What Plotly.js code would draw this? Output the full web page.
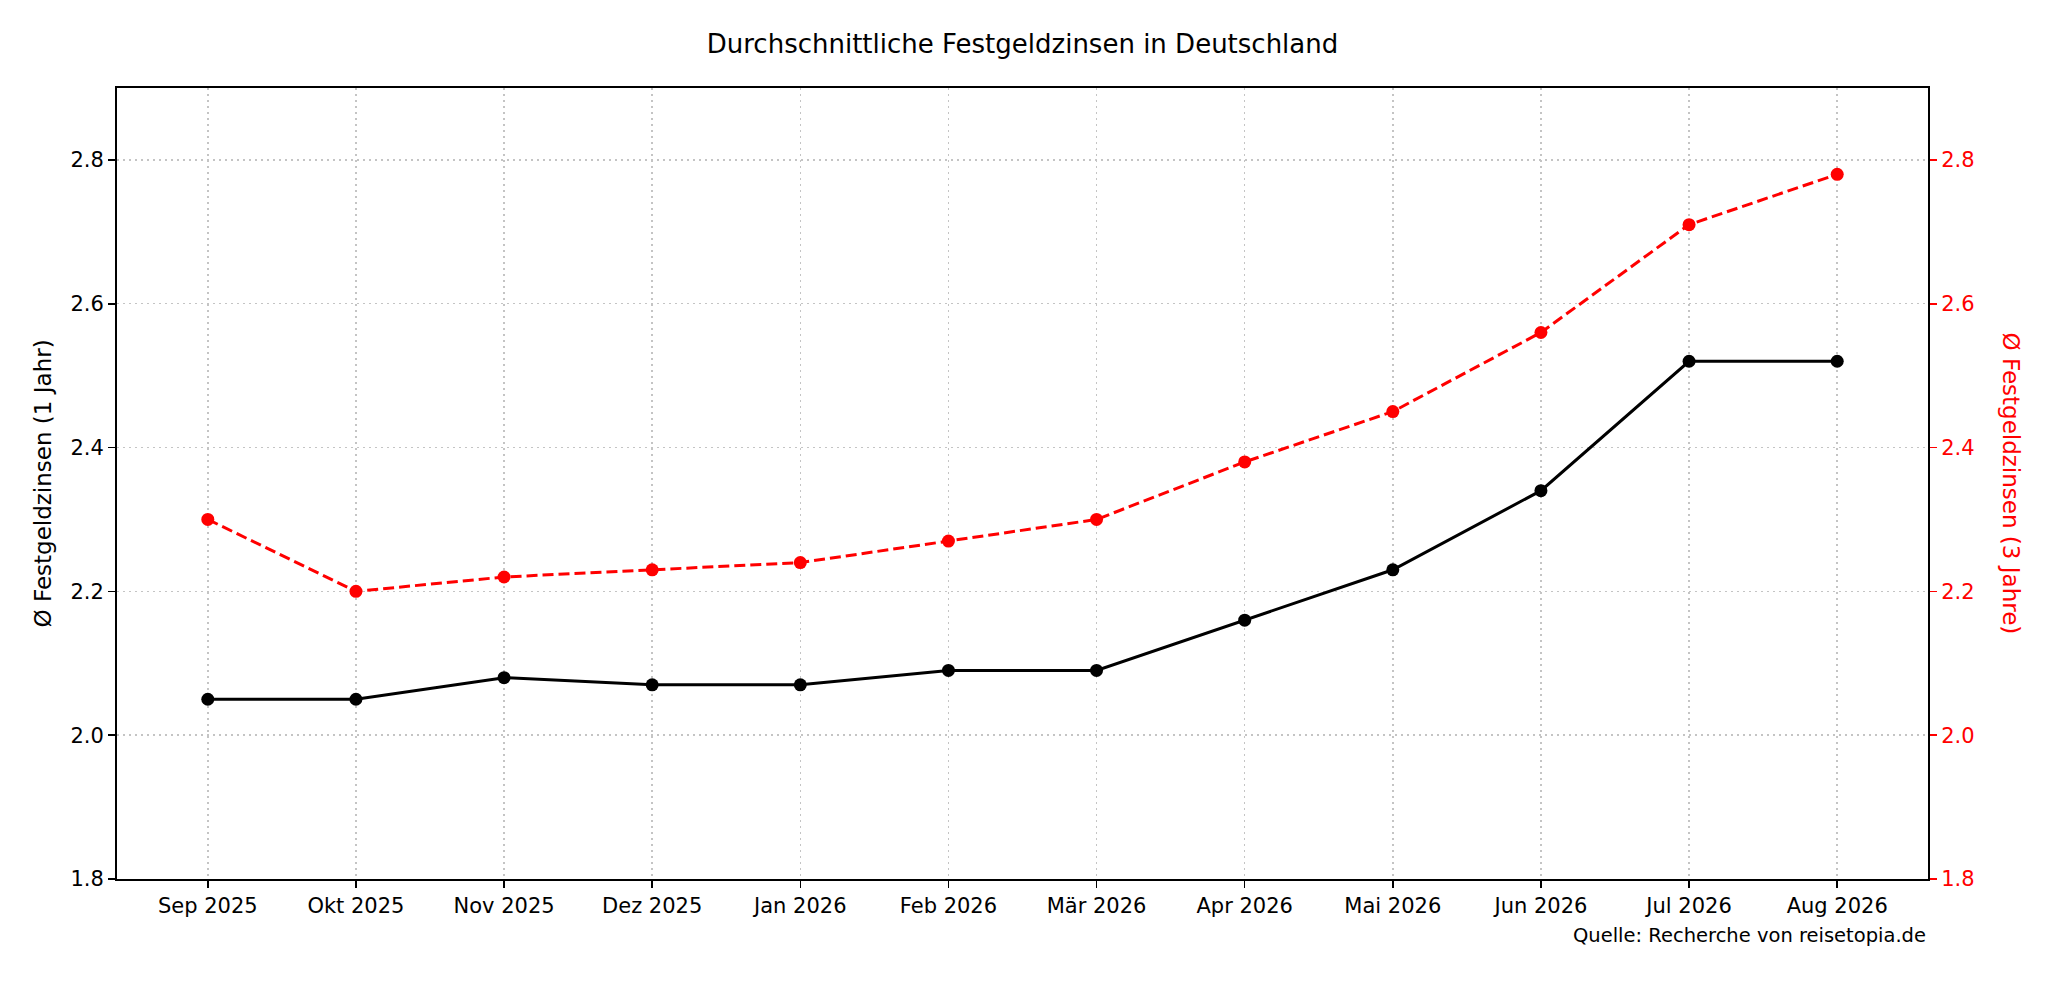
<!DOCTYPE html>
<html>
<head>
<meta charset="utf-8">
<script src="https://cdn.plot.ly/plotly-3.0.1.min.js"></script>
<style>
  html, body { margin: 0; padding: 0; background: #fff; }
  #chart { width: 2048px; height: 994px; }
</style>
</head>
<body>
<div id="chart"></div>
<script>
// Daten
const monate = ['Sep 2025', 'Okt 2025', 'Nov 2025', 'Dez 2025', 'Jan 2026', 'Feb 2026',
                'Mär 2026', 'Apr 2026', 'Mai 2026', 'Jun 2026', 'Jul 2026', 'Aug 2026'];
const zins1Jahr = [2.05, 2.05, 2.08, 2.07, 2.07, 2.09, 2.09, 2.16, 2.23, 2.34, 2.52, 2.52];
const zins3Jahre = [2.30, 2.20, 2.22, 2.23, 2.24, 2.27, 2.30, 2.38, 2.45, 2.56, 2.71, 2.78];
const yTicks = [1.8, 2.0, 2.2, 2.4, 2.6, 2.8];

const font = 'DejaVu Sans, sans-serif';
const grid = '#c4c4c4';

var data = [
    {
        x: monate,
        y: zins1Jahr,
        mode: 'lines+markers',
        line: { color: 'black', width: 3 },
        marker: { color: 'black', size: 13 },
        name: 'Ø Festgeldzinsen (1 Jahr)',
        yaxis: 'y',
    },
    {
        x: monate,
        y: zins3Jahre,
        mode: 'lines+markers',
        line: { color: 'red', width: 3, dash: '11px,5px' },
        marker: { color: 'red', size: 13 },
        name: 'Ø Festgeldzinsen (3 Jahre)',
        yaxis: 'y2',
    }
];

var layout = {
    width: 2048,
    height: 994,
    paper_bgcolor: 'white',
    plot_bgcolor: 'white',
    showlegend: false,
    font: { family: font, size: 21, color: 'black' },
    margin: { l: 117, r: 120, t: 88, b: 115, pad: 0 },
    title: {
        text: 'Durchschnittliche Festgeldzinsen in Deutschland',
        font: { family: font, size: 26, color: 'black' },
        x: 0.5, xref: 'paper', xanchor: 'center',
        y: 1 - 44 / 994, yref: 'container', yanchor: 'middle',
    },
    xaxis: {
        type: 'category',
        range: [-0.613, monate.length - 1 + 0.613],
        showline: true, linecolor: 'black', linewidth: 2, mirror: true,
        ticks: 'outside', ticklen: 7, tickwidth: 1.6, tickcolor: 'black',
        showgrid: true, gridcolor: grid, gridwidth: 1.4, griddash: '2px,4px',
        zeroline: false,
        tickfont: { family: font, size: 21, color: 'black' },
        ticklabelstandoff: 0,
    },
    yaxis: {
        range: [1.8, 2.9],
        tickvals: yTicks,
        tickformat: '.1f',
        showline: true, linecolor: 'black', linewidth: 2,
        ticks: 'outside', ticklen: 7, tickwidth: 1.6, tickcolor: 'black',
        showgrid: true, gridcolor: grid, gridwidth: 1.4, griddash: '2px,4px',
        zeroline: false,
        tickfont: { family: font, size: 21, color: 'black' },
    },
    yaxis2: {
        overlaying: 'y',
        side: 'right',
        range: [1.8, 2.9],
        tickvals: yTicks,
        tickformat: '.1f',
        showline: true, linecolor: 'black', linewidth: 2,
        ticks: 'outside', ticklen: 7, tickwidth: 1.6, tickcolor: 'red',
        showgrid: false, zeroline: false,
        tickfont: { family: font, size: 21, color: 'red' },
    },
    annotations: [
        {   // linke Achsenbeschriftung
            text: 'Ø Festgeldzinsen (1 Jahr)',
            xref: 'paper', yref: 'paper', x: 0, y: 0.5,
            xanchor: 'center', yanchor: 'middle', xshift: -75,
            textangle: -90, showarrow: false,
            font: { family: font, size: 23, color: 'black' },
        },
        {   // rechte Achsenbeschriftung, von oben nach unten
            text: 'Ø Festgeldzinsen (3 Jahre)',
            xref: 'paper', yref: 'paper', x: 1, y: 0.5,
            xanchor: 'center', yanchor: 'middle', xshift: 83,
            textangle: 90, showarrow: false,
            font: { family: font, size: 23, color: 'red' },
        },
        {   // Quelle
            text: 'Quelle: Recherche von reisetopia.de',
            xref: 'paper', yref: 'paper', x: 1, y: 0,
            xanchor: 'right', yanchor: 'middle', yshift: -56,
            showarrow: false,
            font: { family: font, size: 19.5, color: 'black' },
        }
    ]
};

Plotly.newPlot('chart', data, layout, { displayModeBar: false, staticPlot: true });
</script>
</body>
</html>
